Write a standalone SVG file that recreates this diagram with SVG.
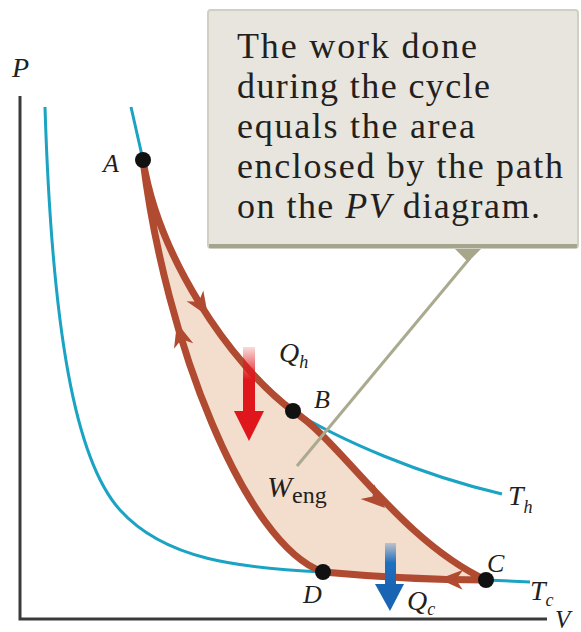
<svg xmlns="http://www.w3.org/2000/svg" width="581" height="632" viewBox="0 0 581 632">
<style>
.lbl{font-family:"Liberation Serif","Times New Roman",serif;font-style:italic;fill:#231f20}
.sub{font-family:"Liberation Serif","Times New Roman",serif;fill:#231f20}
.box{font-family:"Liberation Serif","Times New Roman",serif;font-size:36px;fill:#231f20}
.iso{fill:none;stroke:#1aa3c2;stroke-width:3}
.cyc{stroke:#b04a30;stroke-width:7;stroke-linejoin:round;stroke-linecap:round}
.dot{fill:#111}
.ah{fill:#b04a30}
</style>
<defs>
<path id="head" d="M0,0 L-24,-10 L-17,0 L-24,10 Z"/>
<linearGradient id="gRed" x1="0" y1="0" x2="0" y2="1">
<stop offset="0" stop-color="#e0161d" stop-opacity="0.15"/>
<stop offset="0.5" stop-color="#e0161d"/>
<stop offset="1" stop-color="#e0161d"/>
</linearGradient>
<linearGradient id="gBlue" x1="0" y1="0" x2="0" y2="1">
<stop offset="0" stop-color="#1f6fc0" stop-opacity="0.25"/>
<stop offset="0.45" stop-color="#1f6fc0"/>
<stop offset="1" stop-color="#1a64b4"/>
</linearGradient>
</defs>
<rect width="581" height="632" fill="#fff"/>

<g id="axes">
<path d="M20,96 L20,619 L547,619" fill="none" stroke="#3a3a3a" stroke-width="3"/>
<text class="lbl" x="12" y="77" font-size="28">P</text>
<text class="lbl" x="555" y="628" font-size="25">V</text>
</g>

<g id="isotherm-Tc">
<path class="iso" d="M45,107 C52,330 75,460 120,510 C165,560 240,568 323,572 Q410,578 486,580 L530,582"/>
<text class="lbl" x="530" y="600" font-size="28">T<tspan font-size="18" dy="6">c</tspan></text>
</g>

<g id="isotherm-Th">
<path class="iso" d="M131,107 L143,160 C158,255 228,362 293,411 C340,440 420,475 502,494"/>
<text class="lbl" x="508" y="505" font-size="28">T<tspan font-size="18" dy="8">h</tspan></text>
</g>

<g id="cycle">
<path d="M143,160 C158,255 228,362 293,411 C340,440 400,540 486,580 Q410,580 323,572 C245,545 165,340 143,160 Z" fill="#f3ddcc" class="cyc"/>
</g>

<g id="connectors">
<use href="#head" class="ah" transform="translate(208,316) rotate(57)"/>
<use href="#head" class="ah" transform="translate(385,508) rotate(43)"/>
<use href="#head" class="ah" transform="translate(439,579) rotate(182)"/>
<use href="#head" class="ah" transform="translate(177,323) rotate(-106)"/>
<line x1="470" y1="258" x2="297" y2="466" stroke="#a9aa8e" stroke-width="3"/>
</g>

<g id="Qh">
<rect x="243" y="347" width="12" height="66" fill="url(#gRed)"/>
<polygon points="234,411 264,411 249,441" fill="#e0161d"/>
<text class="lbl" x="279" y="362" font-size="28">Q<tspan font-size="18" dy="6">h</tspan></text>
</g>

<g id="Qc">
<rect x="385" y="543" width="11" height="44" fill="url(#gBlue)"/>
<polygon points="375,584 404,584 390,611" fill="#1a64b4"/>
<text class="lbl" x="407" y="610" font-size="28">Q<tspan font-size="18" dy="5">c</tspan></text>
</g>

<g id="Weng">
<text class="lbl" x="267" y="497" font-size="30">W<tspan class="sub" font-style="normal" font-size="24" dy="6">eng</tspan></text>
</g>

<g id="A"><circle class="dot" cx="143" cy="160" r="8"/><text class="lbl" x="103" y="172" font-size="26">A</text></g>
<g id="B"><circle class="dot" cx="293" cy="411" r="8"/><text class="lbl" x="314" y="408" font-size="26">B</text></g>
<g id="C"><circle class="dot" cx="486" cy="580" r="8"/><text class="lbl" x="487" y="572" font-size="26">C</text></g>
<g id="D"><circle class="dot" cx="323" cy="572" r="8"/><text class="lbl" x="303" y="603" font-size="26">D</text></g>

<g id="callout">
<polygon points="452,246 484,246 468,262" fill="#a8a68a"/>
<rect x="208" y="10" width="370" height="238" rx="3" fill="#e7e5de" stroke="#cfcfc4" stroke-width="2"/>
<line x1="209" y1="246" x2="577" y2="246" stroke="#a5a58e" stroke-width="4"/>
<text class="box" x="237" y="58" textLength="240" lengthAdjust="spacing">The work done</text>
<text class="box" x="237" y="98" textLength="253" lengthAdjust="spacing">during the cycle</text>
<text class="box" x="237" y="138" textLength="238" lengthAdjust="spacing">equals the area</text>
<text class="box" x="237" y="178" textLength="326" lengthAdjust="spacing">enclosed by the path</text>
<text class="box" x="237" y="218" textLength="303" lengthAdjust="spacing">on the <tspan font-style="italic">PV</tspan> diagram.</text>
</g>
</svg>
